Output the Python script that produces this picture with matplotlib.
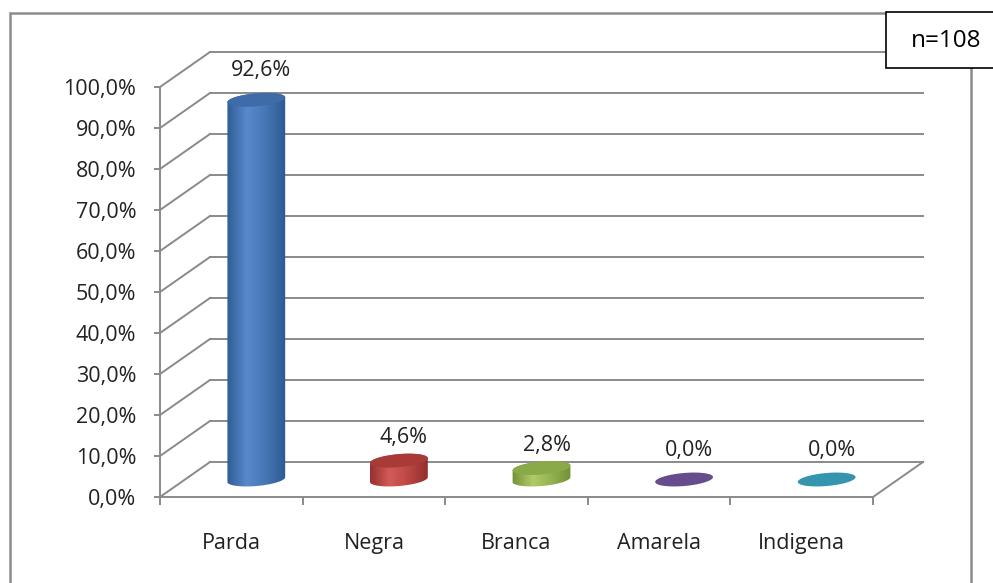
import numpy as np
import matplotlib.pyplot as plt
from matplotlib.patches import Polygon, Rectangle
from matplotlib.colors import LinearSegmentedColormap

categories = ['Parda', 'Negra', 'Branca', 'Amarela', 'Indigena']
values = [92.6, 4.6, 2.8, 0.0, 0.0]
value_labels = ['92,6%', '4,6%', '2,8%', '0,0%', '0,0%']
sample_note = 'n=108'

# body shades (edge, light, mid) and cap colour per series
body_colors = [
    ('#2b5890', '#5889cb', '#4777b6'),
    ('#8e2c29', '#d45b57', '#bb4744'),
    ('#718c35', '#b0cc68', '#94b251'),
    ('#4f3a72', '#8a70b0', '#6c528f'),
    ('#2a7189', '#5ab6d0', '#3e98b2'),
]
cap_colors = ['#3f6ca8', '#a83b38', '#8aa948', '#664c8c', '#3594ae']

plt.rcParams['font.family'] = ['Open Sans', 'DejaVu Sans']
GRID = '#8a8a8a'
TEXT = '#222222'
FS = 15.5

W, H = 993, 583
fig = plt.figure(figsize=(W / 100, H / 100), dpi=100)
fig.patch.set_facecolor('white')

ax = fig.add_axes([160 / W, 1 - 497 / H, 713 / W, 410 / H])
ax.set_facecolor('none')
ax.set_xlim(-0.5, 4.5)
ax.set_ylim(0, 100)

# pixel scale of the front plane, used for the 3d depth offset
px_x = 713 / 5
px_y = 410 / 100
dx = 50 / px_x
dy = 35 / px_y

# back wall gridlines + side diagonals
ticks = np.arange(0, 101, 10)
for t in ticks:
    ax.plot([-0.5 + dx, 4.5 + dx], [t + dy, t + dy], color=GRID, lw=1.4,
            clip_on=False, zorder=1)
    ax.plot([-0.5, -0.5 + dx], [t, t + dy], color=GRID, lw=1.4,
            clip_on=False, zorder=1)
ax.plot([4.5, 4.5 + dx], [0, dy], color=GRID, lw=1.4, clip_on=False, zorder=1)


def ellipse_pts(cx, cy, t, a=29, b=6.5, ang=np.deg2rad(5)):
    ex = a * np.cos(t) * np.cos(ang) - b * np.sin(t) * np.sin(ang)
    ey = a * np.cos(t) * np.sin(ang) + b * np.sin(t) * np.cos(ang)
    return np.column_stack([cx + ex / px_x, cy + ey / px_y])


for i, v in enumerate(values):
    cx = i + dx / 2
    base = dy / 2
    top = v + dy / 2
    if v > 0:
        lower = ellipse_pts(cx, base, np.linspace(np.pi, 2 * np.pi, 60))
        upper = ellipse_pts(cx, top, np.linspace(0, np.pi, 60))
        body = Polygon(np.vstack([lower, upper]), closed=True,
                       facecolor='none', edgecolor='none', zorder=3)
        ax.add_patch(body)
        edge, light, mid = body_colors[i]
        cmap = LinearSegmentedColormap.from_list(
            'c', [(0, edge), (0.35, light), (0.65, mid), (1, edge)])
        grad = np.linspace(0, 1, 200).reshape(1, -1)
        x0 = cx - 31 / px_x
        x1 = cx + 31 / px_x
        im = ax.imshow(grad, cmap=cmap, aspect='auto', zorder=3,
                       interpolation='bilinear',
                       extent=[x0, x1, base - 10 / px_y, top + 10 / px_y])
        im.set_clip_path(body)
    cap = Polygon(ellipse_pts(cx, top, np.linspace(0, 2 * np.pi, 120)),
                  closed=True, facecolor=cap_colors[i], edgecolor='none',
                  zorder=4)
    ax.add_patch(cap)
    lift = 23 if 0 < v < 10 else 29
    ax.text(cx + 5 / px_x, top + lift / px_y, value_labels[i], ha='center',
            va='center', fontsize=FS, color=TEXT, zorder=5)

ax.set_xlim(-0.5, 4.5)
ax.set_ylim(0, 100)

for s in ['top', 'right']:
    ax.spines[s].set_visible(False)
for s in ['left', 'bottom']:
    ax.spines[s].set_color(GRID)
    ax.spines[s].set_linewidth(1.4)

ax.set_yticks(ticks)
ax.set_yticklabels([f'{t:.1f}%'.replace('.', ',') for t in ticks])
ax.tick_params(axis='y', length=4, width=1.4, color=GRID, pad=13,
               labelsize=FS, labelcolor=TEXT)
ax.set_xticks(np.arange(-0.5, 5, 1))
ax.set_xticklabels([])
ax.tick_params(axis='x', which='major', length=6, width=1.4, color=GRID)
ax.set_xticks(np.arange(5), minor=True)
ax.set_xticklabels(categories, minor=True)
ax.tick_params(axis='x', which='minor', length=0, pad=26, labelsize=FS,
               labelcolor=TEXT)

# chart area border
fig.patches.append(Rectangle((10 / W, -0.02), 961 / W, 1.02 - 13 / H,
                             transform=fig.transFigure, facecolor='none',
                             edgecolor='#8c8c8c', lw=1.8, zorder=0))
# sample size box
fig.patches.append(Rectangle((886 / W, 1 - 68 / H), 120 / W, 56 / H,
                             transform=fig.transFigure, facecolor='white',
                             edgecolor='black', lw=1.2, zorder=10))
fig.text(946 / W, 1 - 41 / H, sample_note, ha='center', va='center',
         fontsize=17.5, color='black', zorder=11)

fig.savefig('out.png', dpi=100)
